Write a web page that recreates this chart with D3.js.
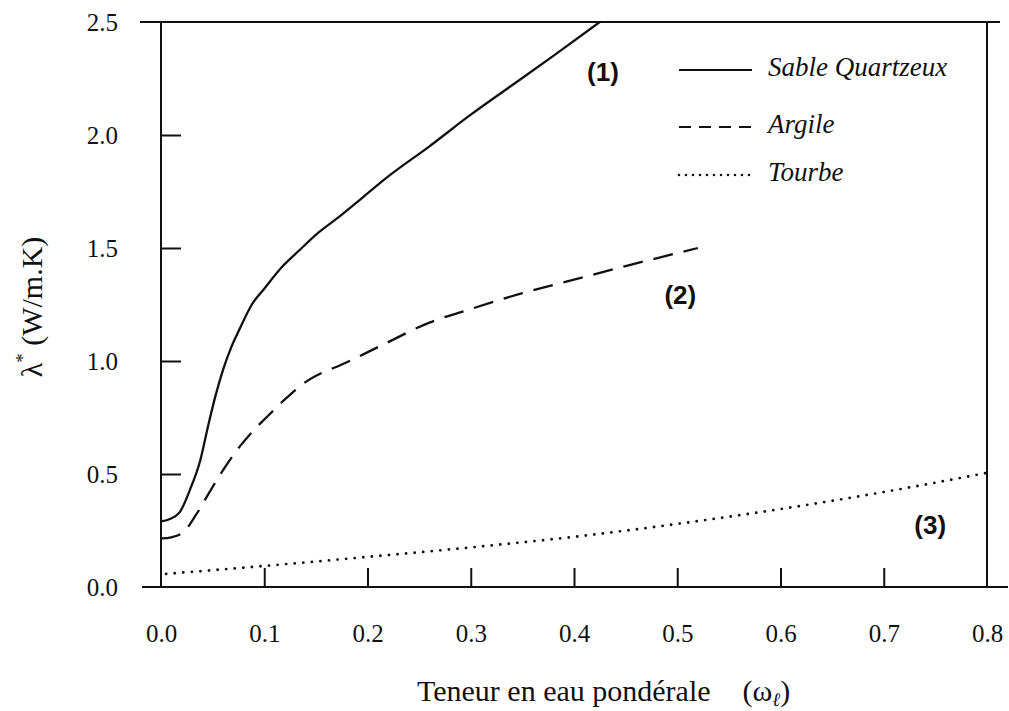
<!DOCTYPE html>
<html>
<head>
<meta charset="utf-8">
<script src="https://cdn.jsdelivr.net/npm/d3@7"></script>
<style>
  html, body { margin: 0; padding: 0; background: #fff; }
  svg { display: block; }
  text { font-family: "Liberation Serif", "Times New Roman", serif; fill: #111; }
</style>
</head>
<body>
<svg id="chart" width="1009" height="711"></svg>
<script>
// ---- data ----
const sableX = [0, 0.008, 0.018, 0.028, 0.038, 0.046, 0.053, 0.06, 0.068, 0.076, 0.088, 0.1, 0.118, 0.134, 0.153, 0.173, 0.197, 0.221, 0.26, 0.3, 0.34, 0.38, 0.425];
const sableY = [0.29, 0.30, 0.33, 0.43, 0.56, 0.72, 0.85, 0.96, 1.06, 1.14, 1.25, 1.32, 1.42, 1.49, 1.57, 1.64, 1.73, 1.82, 1.95, 2.09, 2.22, 2.35, 2.5];

const argileX = [0, 0.01, 0.021, 0.034, 0.047, 0.062, 0.076, 0.089, 0.102, 0.12, 0.141, 0.157, 0.173, 0.214, 0.26, 0.3, 0.35, 0.4, 0.45, 0.52];
const argileY = [0.215, 0.22, 0.24, 0.32, 0.42, 0.53, 0.62, 0.69, 0.75, 0.83, 0.91, 0.95, 0.98, 1.07, 1.17, 1.23, 1.30, 1.36, 1.42, 1.50];

const tourbeX = [0.005, 0.1, 0.2, 0.3, 0.4, 0.5, 0.6, 0.7, 0.8];
const tourbeY = [0.058, 0.093, 0.133, 0.175, 0.222, 0.279, 0.345, 0.42, 0.505];

const xTicks = [0, 0.1, 0.2, 0.3, 0.4, 0.5, 0.6, 0.7, 0.8];
const yTicks = [0, 0.5, 1.0, 1.5, 2.0, 2.5];
const legendNames = ["Sable Quartzeux", "Argile", "Tourbe"];
const curveLabels = ["(1)", "(2)", "(3)"];

// ---- layout ----
const svg = d3.select("#chart");
const x = d3.scaleLinear().domain([0, 0.8]).range([161, 987]);
const y = d3.scaleLinear().domain([0, 2.5]).range([587, 22]);

// frame lines
const frame = svg.append("g").attr("stroke", "#111").attr("stroke-width", 2);
frame.append("line").attr("x1", 140).attr("x2", 1000).attr("y1", y(2.5)).attr("y2", y(2.5));
frame.append("line").attr("x1", 142).attr("x2", 1008).attr("y1", y(0)).attr("y2", y(0));
frame.append("line").attr("x1", x(0)).attr("x2", x(0)).attr("y1", y(2.5) - 1).attr("y2", y(0));
frame.append("line").attr("x1", x(0.8)).attr("x2", x(0.8)).attr("y1", y(2.5) - 1).attr("y2", y(0));

// y axis
const yAxis = d3.axisLeft(y).tickValues(yTicks).tickFormat(d3.format(".1f"))
  .tickSizeInner(-20).tickSizeOuter(0).tickPadding(43);
const gy = svg.append("g").attr("transform", `translate(${x(0)},0)`).call(yAxis);
gy.select(".domain").remove();
gy.selectAll(".tick line").attr("stroke", "#111").attr("stroke-width", 2)
  .attr("display", d => (d === 0 || d === 2.5) ? "none" : null);
gy.selectAll(".tick text").attr("font-family", "Liberation Serif").attr("font-size", 25).attr("fill", "#111");

// x axis
const xAxis = d3.axisBottom(x).tickValues(xTicks).tickFormat(d3.format(".1f"))
  .tickSizeInner(-19).tickSizeOuter(0).tickPadding(37);
const gx = svg.append("g").attr("transform", `translate(0,${y(0)})`).call(xAxis);
gx.select(".domain").remove();
gx.selectAll(".tick line").attr("stroke", "#111").attr("stroke-width", 2)
  .attr("display", d => (d === 0 || d === 0.8) ? "none" : null);
gx.selectAll(".tick text").attr("font-family", "Liberation Serif").attr("font-size", 25).attr("fill", "#111");

// curves
const line = d3.line().x(d => x(d[0])).y(d => y(d[1])).curve(d3.curveMonotoneX);
const series = [
  { xs: sableX, ys: sableY, dash: null, width: 2.3 },
  { xs: argileX, ys: argileY, dash: "20,11", width: 2.3 },
  { xs: tourbeX, ys: tourbeY, dash: "0,8.6", width: 2.9 }
];
series.forEach(s => {
  svg.append("path")
    .datum(d3.zip(s.xs, s.ys))
    .attr("d", line)
    .attr("fill", "none")
    .attr("stroke", "#111")
    .attr("stroke-width", s.width)
    .attr("stroke-linecap", s.dash && s.dash.startsWith("0") ? "round" : "butt")
    .attr("stroke-dasharray", s.dash);
});

// curve labels (centre positions in data units)
const labelPos = [[0.428, 2.28], [0.503, 1.29], [0.745, 0.275]];
curveLabels.forEach((t, i) => {
  svg.append("text")
    .attr("x", x(labelPos[i][0]))
    .attr("y", y(labelPos[i][1]) + 9)
    .attr("font-weight", "bold")
    .attr("font-size", 26)
    .attr("text-anchor", "middle")
    .style("font-family", "'Liberation Sans', Arial, sans-serif")
    .text(t);
});

// legend
const legendY = [70, 127, 175];
const legendDash = [null, "12,8", "0,7"];
legendNames.forEach((n, i) => {
  svg.append("line")
    .attr("x1", 679).attr("x2", 752)
    .attr("y1", legendY[i]).attr("y2", legendY[i])
    .attr("stroke", "#111")
    .attr("stroke-width", i === 2 ? 2.6 : 2.2)
    .attr("stroke-linecap", i === 2 ? "round" : "butt")
    .attr("stroke-dasharray", legendDash[i]);
  svg.append("text")
    .attr("x", 768).attr("y", legendY[i] + 6)
    .attr("font-size", 27)
    .attr("font-style", "italic")
    .text(n);
});

// axis titles
const xt = svg.append("text")
  .attr("x", 417).attr("y", 701)
  .attr("font-size", 30);
xt.append("tspan").text("Teneur en eau pondérale");
xt.append("tspan").attr("dx", 32).text("(ω");
xt.append("tspan").attr("font-size", 19).attr("dy", 5).attr("font-style", "italic").text("ℓ");
xt.append("tspan").attr("dy", -5).text(")");

const yt = svg.append("text")
  .attr("transform", "translate(42,307) rotate(-90)")
  .attr("text-anchor", "middle")
  .attr("font-size", 30);
yt.append("tspan").text("λ");
yt.append("tspan").attr("font-size", 19).attr("dy", -13).text("*");
yt.append("tspan").attr("dy", 13).text(" (W/m.K)");
</script>
</body>
</html>
